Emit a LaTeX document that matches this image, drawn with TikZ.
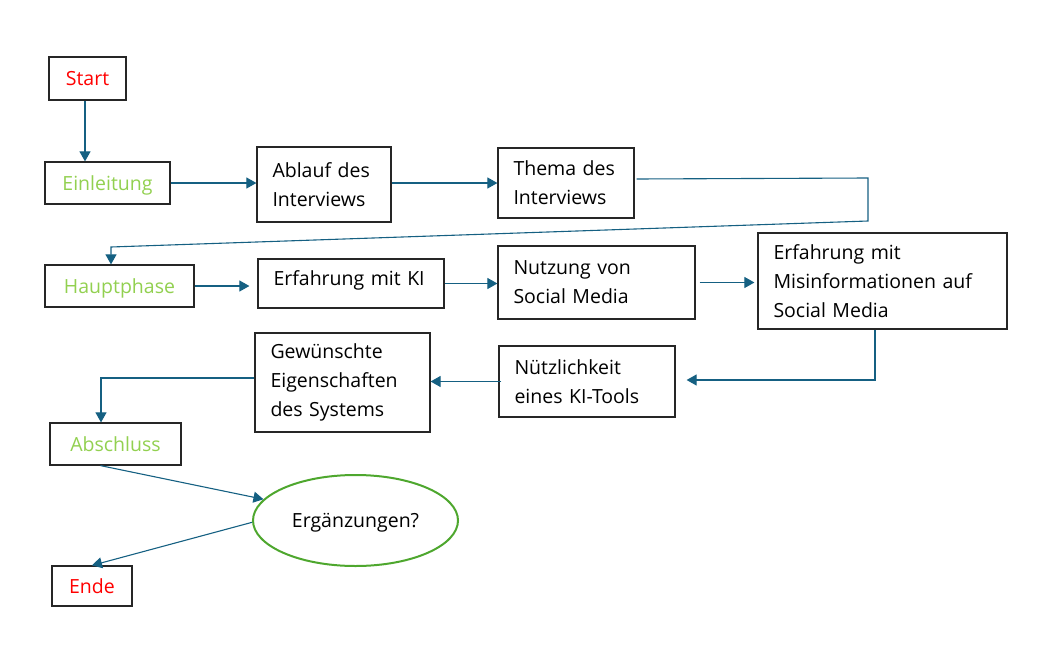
\documentclass[tikz,border=0pt]{standalone}
\usepackage{fontspec}
\setmainfont{Open Sans}
\usetikzlibrary{arrows.meta,shapes.geometric,calc}
\definecolor{conn}{HTML}{156082}
\definecolor{lgreen}{HTML}{92D050}
\definecolor{egreen}{HTML}{4EA72E}
\definecolor{bordc}{HTML}{262626}
\begin{document}
\begin{tikzpicture}[x=1pt,y=-1pt,
  every node/.style={font=\fontsize{19.5pt}{29pt}\selectfont},
  cbox/.style={draw=bordc,line width=1.2pt,inner sep=0pt,align=center,text height=14pt,text depth=0pt},
  lbox/.style={draw=bordc,line width=1.2pt,inner xsep=15.5pt,inner ysep=0pt,align=left},
  arr/.style={draw=conn,line width=1.1pt,-{Triangle[length=10pt,width=11pt]}}]
\useasboundingbox (0,0) rectangle (1056,661);
% nodes
\node[cbox,minimum width=77pt,minimum height=43pt,text=red] (start) at (87.5,78.5) {Start};
\node[cbox,minimum width=125pt,minimum height=42pt,text=lgreen] (einl) at (107.5,183) {Einleitung};
\node[lbox,text width=103pt,minimum height=75pt] (ablauf) at (324,184.5) {Ablauf des\\Interviews};
\node[lbox,text width=105pt,minimum height=70pt] (thema) at (566,183) {Thema des\\Interviews};
\node[cbox,minimum width=149pt,minimum height=42pt,text=lgreen] (haupt) at (119.5,286) {Hauptphase};
\node[lbox,text width=155pt,minimum height=49pt,text height=14pt,text depth=10pt] (erfki) at (351,283.5) {Erfahrung mit KI};
\node[lbox,text width=166pt,minimum height=73pt] (nutzung) at (596.5,282.5) {Nutzung von\\Social Media};
\node[lbox,text width=218pt,minimum height=96pt] (misinfo) at (882.5,281) {Erfahrung mit\\Misinformationen auf\\Social Media};
\node[lbox,text width=145pt,minimum height=71pt] (nuetz) at (587,381.5) {Nützlichkeit\\eines KI-Tools};
\node[lbox,text width=144pt,minimum height=99pt] (gew) at (342.5,382.5) {Gewünschte\\Eigenschaften\\des Systems};
\node[cbox,minimum width=131pt,minimum height=42pt,text=lgreen] (absch) at (115.5,444) {Abschluss};
\node[ellipse,draw=egreen,line width=2pt,minimum width=205pt,minimum height=91pt,inner sep=0pt,text height=14pt,text depth=0pt] (erg) at (355.5,520.5) {Ergänzungen?};
\node[cbox,minimum width=80pt,minimum height=40pt,text=red] (ende) at (92,586) {Ende};
% helper coordinates
\coordinate (r1) at (868,178);
\coordinate (r2) at (868,221);
\coordinate (h1) at (111,247);
\coordinate (m1) at (875,380);
\coordinate (g1) at (101,378);
% connectors
\draw[arr] ([xshift=-2.5pt]start.south) -- ([xshift=-2.5pt]start.south |- einl.north);
\draw[arr] (einl.east) -- (einl.east -| ablauf.west);
\draw[arr] ([yshift=1.5pt]ablauf.east) -- (thema.west);
\draw[arr] ([shift={(2pt,4pt)}]thema.east) -- (r1) -- (r2) -- (h1) -- (h1 |- haupt.north);
\draw[arr] (haupt.east) -- ([xshift=-8pt]haupt.east -| erfki.west);
\draw[arr] (erfki.east) -- (erfki.east -| nutzung.west);
\draw[arr] ([xshift=4pt]nutzung.east) -- ([xshift=-3pt]nutzung.east -| misinfo.west);
\draw[arr] ([xshift=-7.5pt]misinfo.south) -- (m1) -- ([xshift=11pt]m1 -| nuetz.east);
\draw[arr] ([xshift=3pt]nuetz.west) -- (nuetz.west -| gew.east);
\draw[arr] ([yshift=4.5pt]gew.west) -- (g1) -- (g1 |- absch.north);
\draw[arr] ([xshift=-15pt]absch.south) -- (erg.167);
\draw[arr] (erg.181) -- (ende.north);
\end{tikzpicture}
\end{document}
